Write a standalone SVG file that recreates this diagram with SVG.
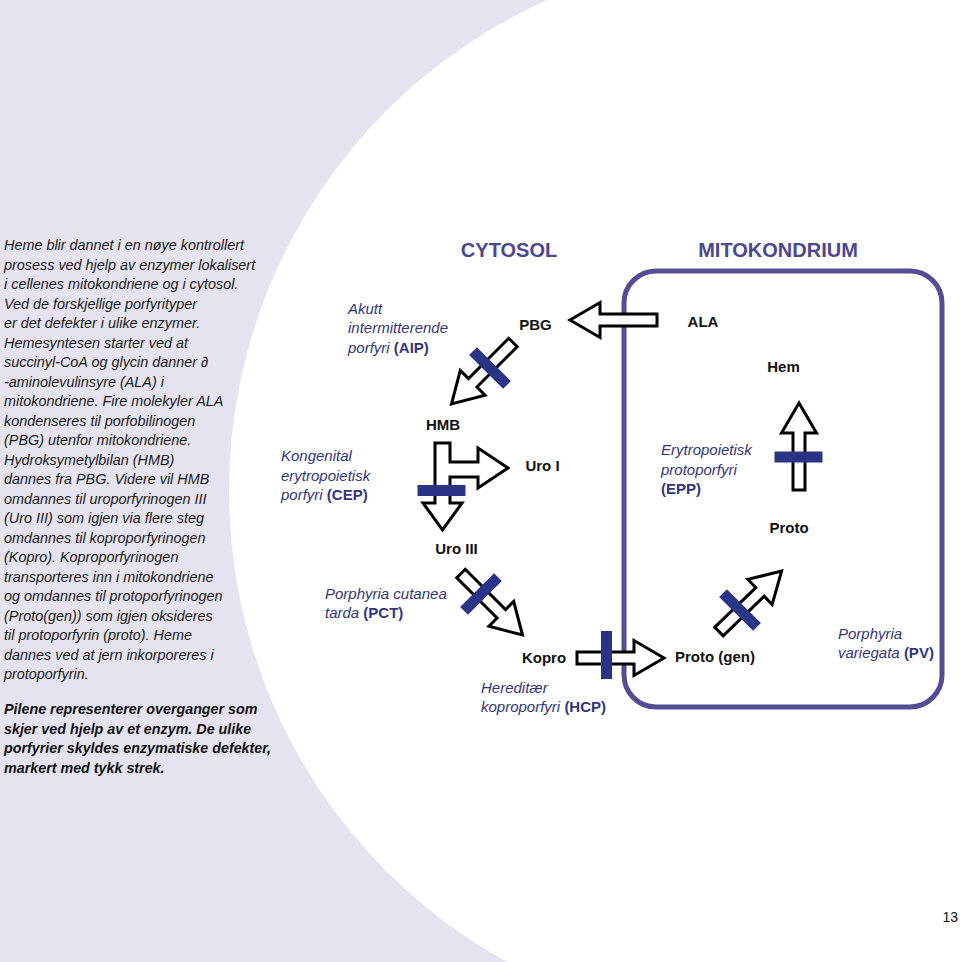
<svg xmlns="http://www.w3.org/2000/svg" width="960" height="962" viewBox="0 0 960 962">
<style>
.body{font-family:"Liberation Sans",Arial,sans-serif;font-size:14.4px;font-style:italic;fill:#1a1a1a}
.bodyb{font-family:"Liberation Sans",Arial,sans-serif;font-size:14.3px;font-style:italic;font-weight:bold;fill:#111}
.node{font-family:"Liberation Sans",Arial,sans-serif;font-size:15px;font-weight:bold;fill:#111;text-anchor:middle}
.dis{font-family:"Liberation Sans",Arial,sans-serif;font-size:15px;font-style:italic;fill:#33357a}
.dis tspan.ab{font-style:normal;font-weight:bold}
.hdr{font-family:"Liberation Sans",Arial,sans-serif;font-size:20px;font-weight:bold;fill:#4a4890;text-anchor:middle}
.arr{fill:#fff;stroke:#000;stroke-width:3;stroke-linejoin:miter}
.bar{fill:#2b3386}
</style>
<defs>
<path id="blk" d="M0,-6 H57 V-17.5 L87,0 L57,17.5 V6 H0 Z"/>
<rect id="bar" x="-24" y="-5.5" width="48" height="11"/>
</defs>
<rect x="0" y="0" width="960" height="962" fill="#e5e3ef"/>
<circle cx="767" cy="491" r="538" fill="#fff"/>

<g id="intro">
<text class="body" x="4" y="250">Heme blir dannet i en nøye kontrollert</text>
<text class="body" x="4" y="269.5">prosess ved hjelp av enzymer lokalisert</text>
<text class="body" x="4" y="289">i cellenes mitokondriene og i cytosol.</text>
<text class="body" x="4" y="308.5">Ved de forskjellige porfyrityper</text>
<text class="body" x="4" y="328">er det defekter i ulike enzymer.</text>
<text class="body" x="4" y="347.5">Hemesyntesen starter ved at</text>
<text class="body" x="4" y="367">succinyl-CoA og glycin danner ∂</text>
<text class="body" x="4" y="386.5">-aminolevulinsyre (ALA) i</text>
<text class="body" x="4" y="406">mitokondriene. Fire molekyler ALA</text>
<text class="body" x="4" y="425.5">kondenseres til porfobilinogen</text>
<text class="body" x="4" y="445">(PBG) utenfor mitokondriene.</text>
<text class="body" x="4" y="464.5">Hydroksymetylbilan (HMB)</text>
<text class="body" x="4" y="484">dannes fra PBG. Videre vil HMB</text>
<text class="body" x="4" y="503.5">omdannes til uroporfyrinogen III</text>
<text class="body" x="4" y="523">(Uro III) som igjen via flere steg</text>
<text class="body" x="4" y="542.5">omdannes til koproporfyrinogen</text>
<text class="body" x="4" y="562">(Kopro). Koproporfyrinogen</text>
<text class="body" x="4" y="581.5">transporteres inn i mitokondriene</text>
<text class="body" x="4" y="601">og omdannes til protoporfyrinogen</text>
<text class="body" x="4" y="620.5">(Proto(gen)) som igjen oksideres</text>
<text class="body" x="4" y="640">til protoporfyrin (proto). Heme</text>
<text class="body" x="4" y="659.5">dannes ved at jern inkorporeres i</text>
<text class="body" x="4" y="679">protoporfyrin.</text>
<text class="bodyb" x="4" y="714">Pilene representerer overganger som</text>
<text class="bodyb" x="4" y="733.5">skjer ved hjelp av et enzym. De ulike</text>
<text class="bodyb" x="4" y="753">porfyrier skyldes enzymatiske defekter,</text>
<text class="bodyb" x="4" y="772.5">markert med tykk strek.</text>
</g>

<g id="headers">
<text class="hdr" x="509" y="257">CYTOSOL</text>
<text class="hdr" x="778" y="257">MITOKONDRIUM</text>
</g>

<g id="mitokondrium">
<rect x="624" y="271" width="318" height="436" rx="32" ry="32" fill="none" stroke="#524e94" stroke-width="5"/>
</g>

<g id="connectors">
<use href="#blk" class="arr" transform="translate(657,320) rotate(180)"/>
<use href="#blk" class="arr" transform="translate(513,342.5) rotate(135)"/>
<path class="arr" d="M435,443 H450 V462 H478 V448 L508,468 L478,488 V477 H450 V503 H462 L442.5,530 L423,503 H435 Z"/>
<use href="#blk" class="arr" transform="translate(461,573.5) rotate(45)"/>
<use href="#blk" class="arr" transform="translate(577,658) rotate(0)"/>
<use href="#blk" class="arr" transform="translate(719,631.5) rotate(-44)"/>
<use href="#blk" class="arr" transform="translate(799,490) rotate(-90)"/>
<use href="#bar" class="bar" transform="translate(490,368) rotate(45)"/>
<use href="#bar" class="bar" transform="translate(441.5,490.5)"/>
<use href="#bar" class="bar" transform="translate(481,594) rotate(-45)"/>
<use href="#bar" class="bar" transform="translate(606.5,655) rotate(90)"/>
<use href="#bar" class="bar" transform="translate(740,610) rotate(45)"/>
<use href="#bar" class="bar" transform="translate(798.5,457)"/>
</g>

<g id="node-ala"><text class="node" x="703" y="327">ALA</text></g>
<g id="node-pbg"><text class="node" x="535.5" y="330">PBG</text></g>
<g id="node-hmb"><text class="node" x="443" y="430">HMB</text></g>
<g id="node-uro1"><text class="node" x="542.5" y="471">Uro I</text></g>
<g id="node-uro3"><text class="node" x="456.5" y="554">Uro III</text></g>
<g id="node-kopro"><text class="node" x="544" y="663">Kopro</text></g>
<g id="node-protogen"><text class="node" x="715" y="662">Proto (gen)</text></g>
<g id="node-proto"><text class="node" x="789" y="533">Proto</text></g>
<g id="node-hem"><text class="node" x="783.5" y="372">Hem</text></g>

<g id="dis-aip">
<text class="dis" x="348" y="314">Akutt</text>
<text class="dis" x="348" y="333">intermitterende</text>
<text class="dis" x="348" y="352.5">porfyri <tspan class="ab">(AIP)</tspan></text>
</g>
<g id="dis-cep">
<text class="dis" x="281" y="461">Kongenital</text>
<text class="dis" x="281" y="480.5">erytropoietisk</text>
<text class="dis" x="281" y="500">porfyri <tspan class="ab">(CEP)</tspan></text>
</g>
<g id="dis-pct">
<text class="dis" x="325" y="598.5">Porphyria cutanea</text>
<text class="dis" x="325" y="618">tarda <tspan class="ab">(PCT)</tspan></text>
</g>
<g id="dis-hcp">
<text class="dis" x="481" y="692.5">Hereditær</text>
<text class="dis" x="481" y="712">koproporfyri <tspan class="ab">(HCP)</tspan></text>
</g>
<g id="dis-epp">
<text class="dis" x="661" y="455">Erytropoietisk</text>
<text class="dis" x="661" y="474.5">protoporfyri</text>
<text class="dis" x="661" y="494"><tspan class="ab">(EPP)</tspan></text>
</g>
<g id="dis-pv">
<text class="dis" x="838" y="638.5">Porphyria</text>
<text class="dis" x="838" y="658">variegata <tspan class="ab">(PV)</tspan></text>
</g>

<g id="page"><text x="958" y="922" text-anchor="end" font-family="Liberation Sans, Arial, sans-serif" font-size="14" fill="#111">13</text></g>
</svg>
